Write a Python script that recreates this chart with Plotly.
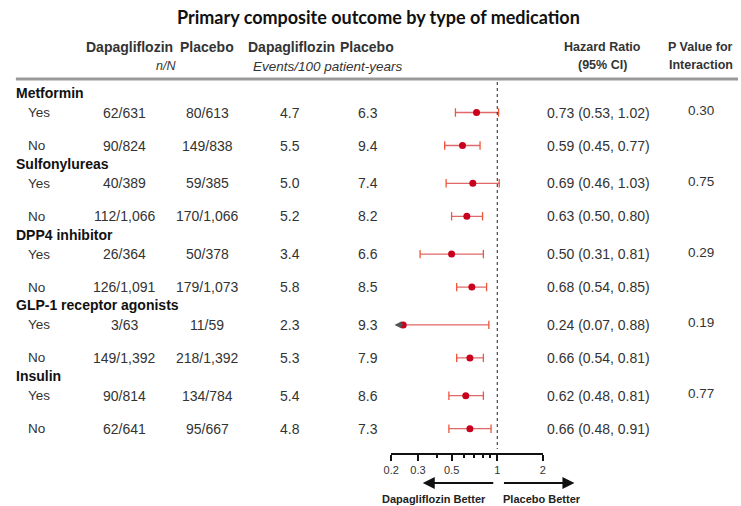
import math
import plotly.graph_objects as go

# ---------------- data ----------------
groups = ["Metformin", "Sulfonylureas", "DPP4 inhibitor", "GLP-1 receptor agonists", "Insulin"]
subgroups = ["Yes", "No"]
dapa_nN = ["62/631", "90/824", "40/389", "112/1,066", "26/364", "126/1,091", "3/63", "149/1,392", "90/814", "62/641"]
plac_nN = ["80/613", "149/838", "59/385", "170/1,066", "50/378", "179/1,073", "11/59", "218/1,392", "134/784", "95/667"]
dapa_rate = [4.7, 5.5, 5.0, 5.2, 3.4, 5.8, 2.3, 5.3, 5.4, 4.8]
plac_rate = [6.3, 9.4, 7.4, 8.2, 6.6, 8.5, 9.3, 7.9, 8.6, 7.3]
hr = [0.73, 0.59, 0.69, 0.63, 0.50, 0.68, 0.24, 0.66, 0.62, 0.66]
hr_lo = [0.53, 0.45, 0.46, 0.50, 0.31, 0.54, 0.07, 0.54, 0.48, 0.48]
hr_hi = [1.02, 0.77, 1.03, 0.80, 0.81, 0.85, 0.88, 0.81, 0.81, 0.91]
p_interaction = ["0.30", "0.75", "0.29", "0.19", "0.77"]
tick_vals = [0.2, 0.3, 0.5, 1, 2]
tick_text = ["0.2", "0.3", "0.5", "1", "2"]
minor_ticks = [0.4, 0.6, 0.7, 0.8, 0.9]

# ---------------- layout helpers ----------------
W, H = 741, 506
X_MIN, X_MAX = 0.2, 2.0
CLIP = 0.215
FONT = "Liberation Sans, Arial, sans-serif"
TXT = "#333333"


def px(x):
    return x / W


def header_y(g):
    return 93 + 70.8 * g


def row_y(g, s):
    return header_y(g) + (19.5 if s == 0 else 52.5)


def label(x, y, text, size=13.5, anchor="center", color=TXT, family=FONT):
    return dict(x=px(x), y=y, xref="paper", yref="y", xanchor=anchor, yanchor="middle", text=text,
                showarrow=False, font=dict(family=family, size=size, color=color))


fig = go.Figure()

ann = []
ann.append(label(376, 17, "<b>Primary composite outcome by type of medication</b>", size=18, color="#111",
                 family="Lato, sans-serif"))
for xc, t in [(123, "Dapagliflozin"), (202, "Placebo"), (288, "Dapagliflozin"), (364, "Placebo")]:
    ann.append(label(xc, 47, f"<b>{t}</b>", size=14))
ann.append(label(160, 66, "<i>n/N</i>", size=12.5))
ann.append(label(325, 66, "<i>Events/100 patient-years</i>", size=13.5))
for xc, t1, t2 in [(603, "Hazard Ratio", "(95% CI)"), (703, "P Value for", "Interaction")]:
    ann.append(label(xc, 47, f"<b>{t1}</b>", size=12.5))
    ann.append(label(xc, 65, f"<b>{t2}</b>", size=12.5))

ci_x, ci_y, cap_x, cap_y, pt_x, pt_y = [], [], [], [], [], []
for g, name in enumerate(groups):
    ann.append(label(6, header_y(g), f"<b>{name}</b>", size=14, anchor="left", color="#111"))
    for s, sub in enumerate(subgroups):
        i = 2 * g + s
        y = row_y(g, s)
        ann.append(label(18, y, sub, anchor="left"))
        ann.append(label(118, y, dapa_nN[i], size=14))
        ann.append(label(202, y, plac_nN[i], size=14))
        ann.append(label(286, y, f"{dapa_rate[i]:.1f}", size=14))
        ann.append(label(365, y, f"{plac_rate[i]:.1f}", size=14))
        ann.append(label(599, y, f"{hr[i]:.2f} ({hr_lo[i]:.2f}, {hr_hi[i]:.2f})", size=14))
        if s == 0:
            ann.append(label(703, y - 2, p_interaction[g], size=13.5))
        lo = max(hr_lo[i], CLIP)
        ci_x += [lo, hr_hi[i], None]
        ci_y += [y, y, None]
        if hr_lo[i] >= X_MIN:
            cap_x.append(hr_lo[i]); cap_y.append(y)
        else:
            ann.append(dict(x=math.log10(CLIP) - 0.01, y=y, xref="x", yref="y", ax=10, ay=0, axref="pixel",
                            ayref="pixel", showarrow=True, arrowhead=2, arrowsize=1.1, arrowwidth=1.3,
                            arrowcolor="#555", text=""))
        cap_x.append(hr_hi[i]); cap_y.append(y)
        pt_x.append(hr[i]); pt_y.append(y)

fig.add_trace(go.Scatter(x=ci_x, y=ci_y, mode="lines", line=dict(color="#e06868", width=1.3),
                         hoverinfo="skip", showlegend=False))
fig.add_trace(go.Scatter(x=cap_x, y=cap_y, mode="markers",
                         marker=dict(symbol="line-ns-open", size=6, line=dict(color="#e06868", width=1.3)),
                         hoverinfo="skip", showlegend=False, cliponaxis=False))
fig.add_trace(go.Scatter(x=pt_x, y=pt_y, mode="markers", marker=dict(symbol="circle", size=7, color="#c8001e"),
                         showlegend=False, cliponaxis=False))

# direction arrows and labels
ann.append(dict(x=px(421), y=483, xref="paper", yref="y", ax=72, ay=0, axref="pixel", ayref="pixel",
                showarrow=True, arrowhead=2, arrowsize=1.2, arrowwidth=2, arrowcolor="#111", text=""))
ann.append(dict(x=px(575), y=483, xref="paper", yref="y", ax=-72, ay=0, axref="pixel", ayref="pixel",
                showarrow=True, arrowhead=2, arrowsize=1.2, arrowwidth=2, arrowcolor="#111", text=""))
ann.append(label(432, 499, "<b>Dapagliflozin Better</b>", size=11, color="#222"))
ann.append(label(542, 499, "<b>Placebo Better</b>", size=11, color="#222"))

shapes = [
    dict(type="line", xref="paper", yref="y", x0=px(8), x1=1, y0=79, y1=79, line=dict(color="#9a9a9a", width=3)),
    dict(type="line", xref="x", yref="y", x0=1, x1=1, y0=82, y1=449, line=dict(color="#222", width=1, dash="dot")),
]

fig.update_layout(
    width=W, height=H, margin=dict(l=0, r=0, t=0, b=0),
    paper_bgcolor="white", plot_bgcolor="white",
    annotations=ann, shapes=shapes,
    xaxis=dict(type="log", domain=[px(389), px(543)], range=[math.log10(X_MIN), math.log10(X_MAX)],
               anchor="free", position=(H - 454) / H, showgrid=False, zeroline=False,
               showline=True, linecolor="#111", linewidth=2,
               tickmode="array", tickvals=tick_vals, ticktext=tick_text, ticks="outside", ticklen=6,
               tickwidth=2, tickcolor="#111", tickfont=dict(family=FONT, size=11, color=TXT),
               minor=dict(tickmode="array", tickvals=minor_ticks, ticks="outside", ticklen=3, tickwidth=2,
                          tickcolor="#111"),
               fixedrange=True),
    yaxis=dict(domain=[0, 1], range=[H, 0], visible=False, fixedrange=True),
)

fig.write_html("out.html", config={"displayModeBar": False},
               post_script="document.body.style.margin='0';document.body.style.overflow='hidden';")
